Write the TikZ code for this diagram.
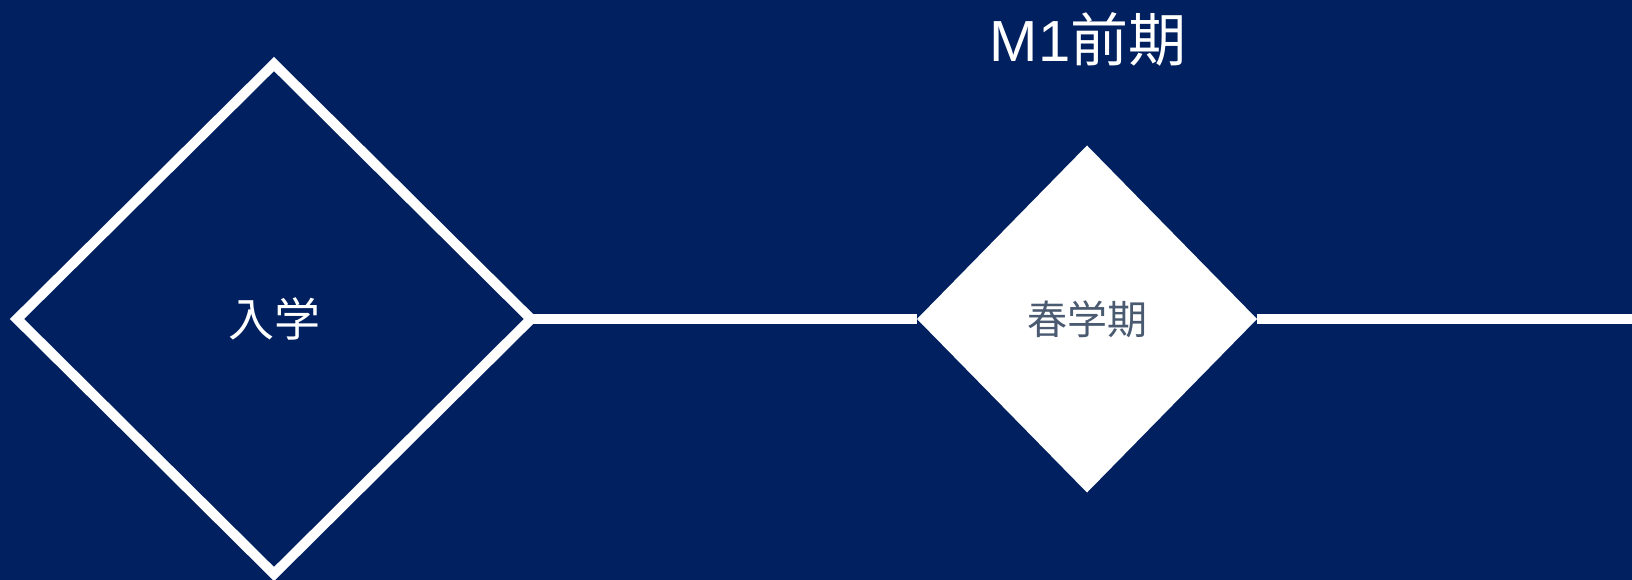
\documentclass[tikz,border=0pt]{standalone}
\usepackage{fontspec}
\setmainfont{Liberation Sans}
\newfontfamily\cjk{Noto Sans CJK JP}
\usetikzlibrary{shapes.geometric}
\definecolor[named]{BgNavy}{HTML}{002060}
\definecolor[named]{TextSlate}{HTML}{4A5A70}
\tikzset{tlp/.style={
  x=1pt,
  y=-1pt
}}
\tikzset{msn/.style={
  shape=diamond,
  inner sep=0pt,
  outer sep=0pt,
  line width=10pt,
}}
\tikzset{ent/.style={
  msn,
  draw=white,
  minimum width=514pt,
  minimum height=510pt,
  text=white,
  font=\cjk\fontsize{46}{46}\selectfont,
}}
\tikzset{trm/.style={
  msn,
  fill=white,
  minimum width=340pt,
  minimum height=347pt,
  text=TextSlate,
  font=\cjk\fontsize{40}{40}\selectfont,
}}
\tikzset{tml/.style={white,line width=10pt}}
\begin{document}
\begin{tikzpicture}[tlp]

    %% Background
    \fill[BgNavy] (0,0) rectangle (1632,580);
    \useasboundingbox (0,0) rectangle (1632,580);

    %% Milestones
    \node[ent] (nyugaku) at (274,319) {入学};
    \node[trm] (haru) at (1087,319) {春学期};
    \coordinate (edge) at (1632,319);

    % Timeline
    \draw[tml] (nyugaku.east) -- (haru.west);
    \draw[tml] (haru.east) -- (edge);

    %% Term label
    \node[white,font=\fontsize{58}{58}\selectfont] (m1) at (1088,39)
      {M1{\cjk 前期}};

\end{tikzpicture}
\end{document}
